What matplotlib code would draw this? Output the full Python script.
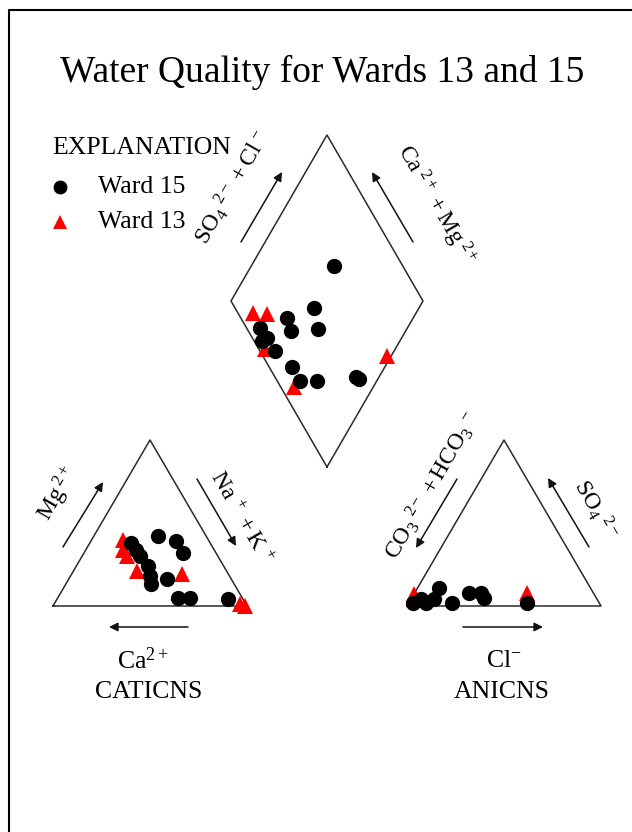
import matplotlib
matplotlib.use('Agg')
import matplotlib.pyplot as plt

plt.rcParams['font.family'] = ['Liberation Serif', 'DejaVu Serif']
plt.rcParams['mathtext.fontset'] = 'custom'
plt.rcParams['mathtext.rm'] = 'Liberation Serif'
plt.rcParams['mathtext.it'] = 'Liberation Serif:italic'
plt.rcParams['mathtext.bf'] = 'Liberation Serif:bold'

# ---------------- data (percent of meq/L) ----------------
# cation triangle: Mg and Na+K (Ca = remainder)
w15_cat_mg = [42, 39, 32, 38, 34, 30, 24, 18, 13, 16, 5, 5, 4]
w15_cat_nak = [33, 44, 51, 21, 26, 30, 37, 41, 44, 51, 62, 68, 88]
w13_cat_mg = [40, 34, 30, 21, 19, 1, 0]
w13_cat_nak = [16, 19, 23, 33, 57, 96, 99]
# anion triangle: SO4 and Cl (CO3+HCO3 = remainder)
w15_an_so4 = [11, 4, 2, 2, 2, 8, 8, 5, 2, 4]
w15_an_cl = [11, 5, 2, 9, 22, 28, 34, 37, 61, 12]
w13_an_so4 = [7, 8]
w13_an_cl = [0, 58]
# diamond: SO4+Cl and Ca+Mg
w15_dia_so4cl = [64, 41, 24, 22, 37, 7, 8, 4, 8, 12, 12, 21, 42, 43]
w15_dia_camg = [57, 55, 66, 60, 46, 77, 70, 72, 62, 48, 40, 31, 12, 10]
w13_dia_so4cl = [8, 15, 3, 7, 65]
w13_dia_camg = [85, 77, 68, 41, 2]

title = 'Water Quality for Wards 13 and 15'
legend_labels = ['Ward 15', 'Ward 13']

# ---------------- geometry ----------------
CAT_L, ANI_L, BASE, SIDE, H = 53, 407, 606, 194, 166
DIA_B = (327, 467)
DHX, DHY = 96, 166


def cat_xy(mg, nak):
    return ([CAT_L + SIDE * (n + m / 2) / 100 for m, n in zip(mg, nak)],
            [BASE - H * m / 100 for m in mg])


def an_xy(so4, cl):
    return ([ANI_L + SIDE * (c + s / 2) / 100 for s, c in zip(so4, cl)],
            [BASE - H * s / 100 for s in so4])


def dia_xy(p, q):
    return ([DIA_B[0] + DHX * (a - b) / 100 for a, b in zip(p, q)],
            [DIA_B[1] - DHY * (a + b) / 100 for a, b in zip(p, q)])


fig = plt.figure(figsize=(6.32, 8.32), dpi=100)
ax = fig.add_axes([0, 0, 1, 1])
ax.set_xlim(0, 632)
ax.set_ylim(832, 0)
ax.axis('off')

# border
ax.plot([9, 9, 640], [840, 10, 10], color='black', lw=1.5, solid_capstyle='butt')

lc = '#2a2a2a'
lw = 1.1
# triangles and diamond
ax.plot([CAT_L, CAT_L + SIDE / 2, CAT_L + SIDE, CAT_L], [BASE, BASE - H, BASE, BASE], color=lc, lw=lw)
ax.plot([ANI_L, ANI_L + SIDE / 2, ANI_L + SIDE, ANI_L], [BASE, BASE - H, BASE, BASE], color=lc, lw=lw)
ax.plot([DIA_B[0], DIA_B[0] - DHX, DIA_B[0], DIA_B[0] + DHX, DIA_B[0]],
        [DIA_B[1], DIA_B[1] - DHY, DIA_B[1] - 2 * DHY, DIA_B[1] - DHY, DIA_B[1]], color=lc, lw=lw)


def arrow(tail, head):
    ax.annotate('', xy=head, xytext=tail,
                arrowprops=dict(arrowstyle='-|>', color='#111', lw=1.1,
                                mutation_scale=13, shrinkA=0, shrinkB=0))


arrow((241, 242), (282, 172))
arrow((413, 242), (372, 172))
arrow((63, 547), (103, 482))
arrow((197, 479), (236, 546))
arrow((188, 627), (109, 627))
arrow((457, 479), (416, 548))
arrow((589, 547), (548, 478))
arrow((463, 627), (543, 627))

# data markers
ms_c, ms_t = 11, 11
for xs, ys in [cat_xy(w13_cat_mg, w13_cat_nak), an_xy(w13_an_so4, w13_an_cl), dia_xy(w13_dia_so4cl, w13_dia_camg)]:
    ax.plot(xs, ys, ls='none', marker='^', color='red', markersize=ms_t, markeredgewidth=0, zorder=3)
for xs, ys in [cat_xy(w15_cat_mg, w15_cat_nak), an_xy(w15_an_so4, w15_an_cl), dia_xy(w15_dia_so4cl, w15_dia_camg)]:
    ax.plot(xs, ys, ls='none', marker='o', color='black', markersize=ms_c, markeredgewidth=0, zorder=4)

# title and legend
fs = 18.5
ax.text(322, 72, title, fontsize=27, ha='center', va='center')
ax.text(52, 148, 'EXPLANATION', fontsize=fs, ha='left', va='center')
ax.plot([60], [187], ls='none', marker='o', color='black', markersize=10, markeredgewidth=0)
ax.plot([60], [222], ls='none', marker='^', color='red', markersize=9.5, markeredgewidth=0)
ax.text(98, 187, legend_labels[0], fontsize=fs, ha='left', va='center')
ax.text(98, 222, legend_labels[1], fontsize=fs, ha='left', va='center')

# axis labels
fr = 17
rk = dict(ha='center', va='center', rotation_mode='anchor', fontsize=fr)
ax.text(232, 188, r'$\mathrm{SO_4}^{\ 2-}\,+\mathrm{Cl}^{\,-}$', rotation=60, **rk)
ax.text(436, 205, r'$\mathrm{Ca}^{\ 2+}\,+\mathrm{Mg}^{\ 2+}$', rotation=-60, **rk)
ax.text(58, 494, r'$\mathrm{Mg}^{\ 2+}$', rotation=60, **rk)
ax.text(241, 518, r'$\mathrm{Na}^{\ +}\,+\mathrm{K}^{\ +}$', rotation=-60, **rk)
ax.text(432, 486, r'$\mathrm{CO_3}^{\ 2-}\,+\mathrm{HCO_3}^{\,-}$', rotation=60, **rk)
ax.text(596, 509, r'$\mathrm{SO_4}^{\ 2-}$', rotation=-60, **rk)
ax.text(143, 661, r'$\mathrm{Ca}^{2+}$', ha='center', va='center', fontsize=fs)
ax.text(149, 692, 'CATICNS', ha='center', va='center', fontsize=fs)
ax.text(504, 661, r'$\mathrm{Cl}^{-}$', ha='center', va='center', fontsize=fs)
ax.text(502, 692, 'ANICNS', ha='center', va='center', fontsize=fs)

fig.savefig('out.png', dpi=100)
